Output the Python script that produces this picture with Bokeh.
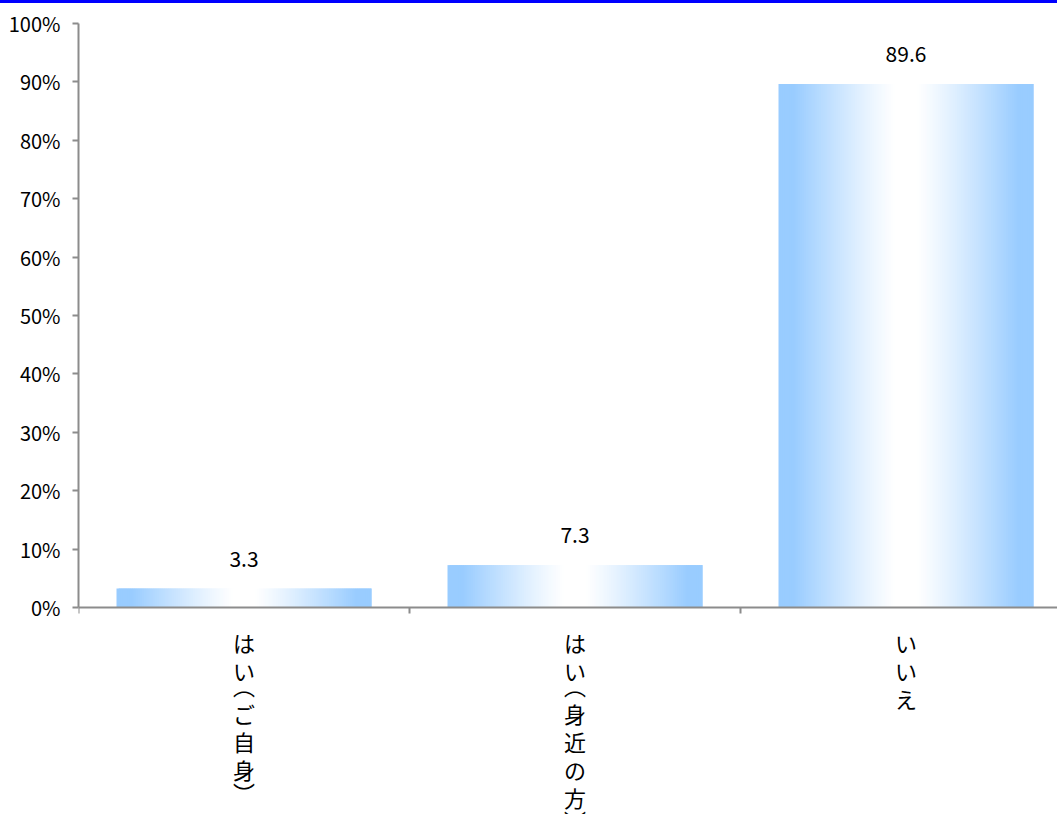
from bokeh.plotting import figure
from bokeh.models import Range1d, FixedTicker, Div
from bokeh.layouts import column
from bokeh.embed import file_html
from bokeh.resources import INLINE
from bokeh.core.properties import value

# ---- data ----
categories = ["はい（ご自身）", "はい（身近の方）", "いいえ"]
values = [3.3, 7.3, 89.6]
y_ticks = [0, 10, 20, 30, 40, 50, 60, 70, 80, 90, 100]
y_tick_labels = ["0%", "10%", "20%", "30%", "40%", "50%", "60%", "70%", "80%", "90%", "100%"]

FONT = "Noto Sans CJK JP"
W = 1057
BAR_H = 3
H = 811
LEFT = 78
PX_PER_CAT = 331.0
ZERO_PX = 604.3          # figure px from top to y = 0
PX_PER_PCT = 5.846
BAR_W = 255.0 / PX_PER_CAT
AXIS_COLOR = "#8c8c8c"

x_end = (W - LEFT) / PX_PER_CAT
y_end = ZERO_PX / PX_PER_PCT
y_start = -(H - ZERO_PX) / PX_PER_PCT

p = figure(width=W, height=H, x_range=Range1d(0, x_end), y_range=Range1d(y_start, y_end),
           output_backend="svg", toolbar_location=None,
           min_border_left=LEFT, min_border_right=0, min_border_top=0, min_border_bottom=0)
p.outline_line_color = None
p.xgrid.visible = False
p.ygrid.visible = False
p.background_fill_color = "white"
p.border_fill_color = "white"

# y axis
ya = p.yaxis[0]
ya.ticker = FixedTicker(ticks=y_ticks)
ya.major_label_overrides = {t: l for t, l in zip(y_ticks, y_tick_labels)}
ya.bounds = (0, 100)
ya.axis_line_color = AXIS_COLOR
ya.axis_line_width = 2
ya.major_tick_line_color = AXIS_COLOR
ya.major_tick_line_width = 2
ya.major_tick_in = 0
ya.major_tick_out = 6
ya.minor_tick_line_color = None
ya.major_label_standoff = 12
ya.major_label_text_font = FONT
ya.major_label_text_font_size = "20px"
ya.major_label_text_color = "black"

# x axis at y = 0 (ticks at category boundaries, no labels)
xa = p.xaxis[0]
xa.fixed_location = 0
xa.ticker = FixedTicker(ticks=list(range(len(categories) + 1)))
xa.major_label_overrides = {t: "" for t in range(len(categories) + 1)}
xa.axis_line_color = AXIS_COLOR
xa.axis_line_width = 2
xa.major_tick_line_color = AXIS_COLOR
xa.major_tick_line_width = 2
xa.major_tick_in = 0
xa.major_tick_out = 6
xa.minor_tick_line_color = None

# gradient bars: light blue edges -> white centre
EDGE = (153, 204, 255)
N = 120


def shade(d):
    lo, hi = 0.08, 0.88
    t = min(max((d - lo) / (hi - lo), 0.0), 1.0)
    t = t ** 1.15
    r = round(255 + (EDGE[0] - 255) * t)
    g = round(255 + (EDGE[1] - 255) * t)
    b = round(255 + (EDGE[2] - 255) * t)
    return "#%02x%02x%02x" % (r, g, b)


centres = [i + 0.5 for i in range(len(categories))]
lefts, rights, tops, cols = [], [], [], []
for i, v in enumerate(values):
    x0 = centres[i] - BAR_W / 2
    step = BAR_W / N
    for j in range(N):
        d = abs((j + 0.5) / N - 0.5) * 2
        lefts.append(x0 + j * step)
        rights.append(x0 + min(j + 2, N) * step)
        tops.append(v)
        cols.append(shade(d))
p.quad(left=lefts, right=rights, bottom=0, top=tops, fill_color=cols, line_color=None, level="underlay")

# value labels
p.text(x=centres, y=values, text=["%.1f" % v for v in values],
       text_align="center", text_baseline="middle", y_offset=-30,
       text_font=value(FONT), text_font_size="21px", text_color="black")

# vertical category labels (upright characters stacked top to bottom);
# brackets use their vertical presentation forms and take half a row
VERT = {"（": "︵", "）": "︶"}
START, FULL, HALF = 18, 28, 15
cx, cy, ct, cb = [], [], [], []
for i, cat in enumerate(categories):
    off = START
    for ch in cat:
        if ch in VERT:
            anchor = off + (3 if ch == "（" else 11)
            cx.append(centres[i]); cy.append(-anchor / PX_PER_PCT); ct.append(VERT[ch]); cb.append("middle")
            off += HALF
        else:
            cx.append(centres[i]); cy.append(-off / PX_PER_PCT); ct.append(ch); cb.append("top")
            off += FULL
p.text(x=cx, y=cy, text=ct, text_baseline=cb, text_align="center",
       text_font=value(FONT), text_font_size="22px", text_color="black")

top_bar = Div(width=W, height=BAR_H, margin=0, styles={"background-color": "#0000ff"})
layout = column(top_bar, p, spacing=0, margin=0)

open("out.html", "w").write(file_html(layout, INLINE))
